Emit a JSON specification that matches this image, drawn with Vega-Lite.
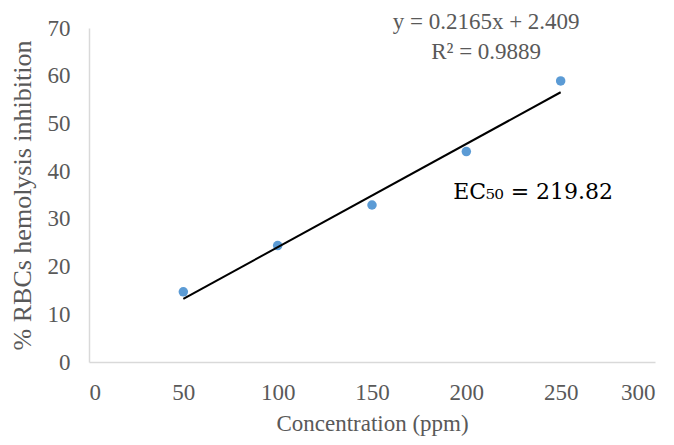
{
  "$schema": "https://vega.github.io/schema/vega-lite/v6.json",
  "width": 566,
  "height": 334,
  "autosize": {"type": "none"},
  "padding": {"left": 89, "top": 28, "right": 19, "bottom": 83},
  "background": "white",
  "config": {
    "view": {"stroke": null},
    "font": "Liberation Serif"
  },
  "datasets": {
    "pts": [
      {"conc": 50, "inhib": 14.7},
      {"conc": 100, "inhib": 24.4},
      {"conc": 150, "inhib": 32.9},
      {"conc": 200, "inhib": 44.1},
      {"conc": 250, "inhib": 58.9}
    ],
    "trend": [
      {"conc": 50, "inhib": 13.234},
      {"conc": 250, "inhib": 56.534}
    ],
    "eq": [
      {"conc": 210.5, "inhib": 71.3, "label": "y = 0.2165x + 2.409"},
      {"conc": 210.5, "inhib": 65.0, "label": "R² = 0.9889"}
    ],
    "ec": [
      {"conc": 193, "inhib": 35.6, "label": "EC₅₀ = 219.82"}
    ]
  },
  "layer": [
    {
      "data": {"name": "pts"},
      "mark": {"type": "point", "filled": true, "color": "#5b9bd5", "opacity": 1, "size": 90},
      "encoding": {
        "x": {
          "field": "conc", "type": "quantitative",
          "scale": {"domain": [0, 300], "nice": false},
          "axis": {
            "title": "Concentration (ppm)",
            "values": [0, 50, 100, 150, 200, 250, 300],
            "grid": false, "ticks": false,
            "domainColor": "#d9d9d9", "domainWidth": 1.5,
            "labelFont": "Liberation Serif", "labelFontSize": 23, "labelColor": "#595959",
            "labelPadding": 19,
            "titleFont": "Liberation Serif", "titleFontSize": 23, "titleFontWeight": "normal", "titleColor": "#595959",
            "titlePadding": 8
          }
        },
        "y": {
          "field": "inhib", "type": "quantitative",
          "scale": {"domain": [0, 70], "nice": false},
          "axis": {
            "title": "% RBCs hemolysis inhibition",
            "values": [0, 10, 20, 30, 40, 50, 60, 70],
            "grid": false, "ticks": false,
            "domainColor": "#d9d9d9", "domainWidth": 1.5,
            "labelFont": "Liberation Serif", "labelFontSize": 23, "labelColor": "#595959",
            "labelPadding": 19,
            "titleFont": "Liberation Serif", "titleFontSize": 26, "titleFontWeight": "normal", "titleColor": "#595959",
            "titlePadding": 12
          }
        }
      }
    },
    {
      "data": {"name": "trend"},
      "mark": {"type": "line", "color": "#000000", "strokeWidth": 2},
      "encoding": {
        "x": {"field": "conc", "type": "quantitative"},
        "y": {"field": "inhib", "type": "quantitative"}
      }
    },
    {
      "data": {"name": "eq"},
      "mark": {"type": "text", "font": "Liberation Serif", "fontSize": 23, "color": "#595959", "align": "center", "baseline": "middle", "clip": false},
      "encoding": {
        "x": {"field": "conc", "type": "quantitative"},
        "y": {"field": "inhib", "type": "quantitative"},
        "text": {"field": "label"}
      }
    },
    {
      "data": {"name": "ec"},
      "mark": {"type": "text", "font": "DejaVu Serif", "fontSize": 22, "color": "#000000", "align": "left", "baseline": "middle"},
      "encoding": {
        "x": {"field": "conc", "type": "quantitative"},
        "y": {"field": "inhib", "type": "quantitative"},
        "text": {"field": "label"}
      }
    }
  ]
}
